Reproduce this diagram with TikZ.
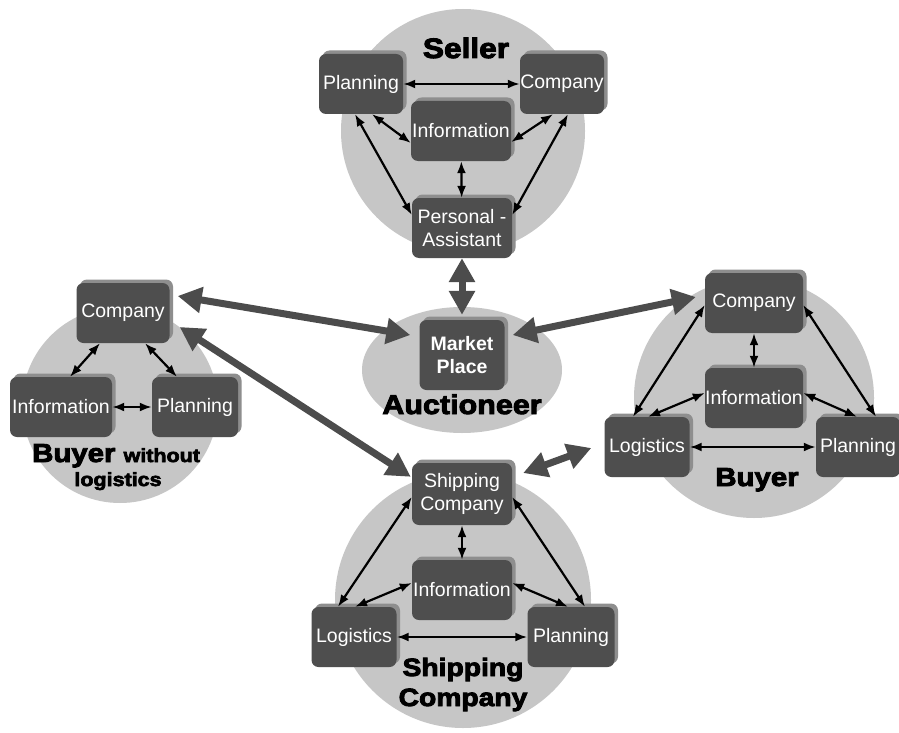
\documentclass[tikz,border=0pt]{standalone}
\usepackage{fontspec}
\setmainfont{Liberation Sans}
\newfontfamily\heavy[FakeBold=3.5,FakeStretch=1.13]{Liberation Sans Bold}
\usetikzlibrary{arrows.meta,calc,shadows}
\definecolor{disc}{HTML}{C6C6C6}
\definecolor{boxfill}{HTML}{4E4E4E}
\definecolor{bevel}{HTML}{8E8E8E}
\definecolor{pipecol}{HTML}{4C4C4C}
\begin{document}
\begin{tikzpicture}[x=1pt,y=-1pt,
  unitbox/.style={fill=boxfill,text=white,rounded corners=7pt,inner sep=0pt,align=center,
    minimum width=84pt,minimum height=60pt,font=\fontsize{19.5}{23}\selectfont,
    general shadow={fill=bevel,shadow xshift=3.5pt,shadow yshift=3.5pt}},
  wide/.style={minimum width=100pt},
  heading/.style={anchor=base,inner sep=0pt,font=\heavy\fontsize{#1}{#1}\selectfont},
  duo/.style={line width=2.2pt,{Latex[length=12pt,width=9pt]}-{Latex[length=12pt,width=9pt]}},
  bigarrow/.style={draw=pipecol,line width=7pt,{Triangle[length=24pt,width=25pt]}-{Triangle[length=24pt,width=25pt]}}]

\fill[white] (0,0) rectangle (899,733);
\useasboundingbox (0,0) rectangle (899,733);

% discs behind each party
\fill[disc] (463,131) circle[radius=122pt];
\fill[disc] (462,370) ellipse[x radius=100pt,y radius=63pt];
\fill[disc] (120,405) circle[radius=98pt];
\fill[disc] (754,398) circle[radius=120pt];
\fill[disc] (463,600) circle[radius=128pt];

% Seller
\node[unitbox] (sPl) at (361,84) {Planning};
\node[unitbox] (sCo) at (562,84) {Company};
\node[unitbox,wide] (sIn) at (461,131) {Information};
\node[unitbox,wide] (sPA) at (462,228) {Personal -\\Assistant};

% Auctioneer
\node[unitbox,minimum width=85pt,minimum height=70pt,font=\bfseries\fontsize{19.5}{23}\selectfont] (mp) at (462,355) {Market\\Place};

% Buyer without logistics
\node[unitbox,minimum width=93pt] (bCo) at (123,313) {Company};
\node[unitbox,minimum width=102pt] (bIn) at (61,407) {Information};
\node[unitbox,minimum width=86pt] (bPl) at (195,407) {Planning};

% Buyer
\node[unitbox,minimum width=98pt] (yCo) at (754,303) {Company};
\node[unitbox,minimum width=98pt] (yIn) at (754,398) {Information};
\node[unitbox,minimum width=85pt] (yLo) at (647,447) {Logistics};
\node[unitbox,minimum width=84pt] (yPl) at (858,447) {Planning};

% Shipping company
\node[unitbox,wide,minimum height=62pt] (hSC) at (462,494) {Shipping\\Company};
\node[unitbox,wide] (hIn) at (462,590) {Information};
\node[unitbox,minimum width=85pt] (hLo) at (354,637) {Logistics};
\node[unitbox,minimum width=87pt] (hPl) at (571,637) {Planning};

% party names
\node[heading=28] (lSel) at (466,58) {Seller};
\node[heading=27] (lAuc) at (462,414) {Auctioneer};
\node[heading=26,anchor=base west] (lBuy1) at (32,462) {Buyer {\fontsize{19}{19}\selectfont without}};
\node[heading=19] (lBuy2) at (118,486) {logistics};
\node[heading=26] (lBuy) at (757,486) {Buyer};
\node[heading=25] (lShip1) at (463,676) {Shipping};
\node[heading=25] (lShip2) at (463,706) {Company};

% links inside the seller
\draw[duo] (sPl) -- (sCo);
\draw[duo] ($(sPl.south)+(11,0)$) -- ($(sIn.west)+(0,12)$);
\draw[duo] ($(sCo.south)+(-9,0)$) -- ($(sIn.east)+(0,11)$);
\draw[duo] ($(sPl.south)+(-6,0)$) -- ($(sPA.west)+(0,-13)$);
\draw[duo] ($(sCo.south)+(6,0)$) -- ($(sPA.east)+(0,-13)$);
\draw[duo] (sIn) -- (sPA);

% links inside the buyer without logistics
\draw[duo] ($(bCo.south)+(-23,0)$) -- ($(bIn.north)+(9,0)$);
\draw[duo] ($(bCo.south)+(22,0)$) -- ($(bPl.north)+(-18,0)$);
\draw[duo] (bIn) -- (bPl);

% links inside the buyer
\draw[duo] (yCo) -- (yIn);
\draw[duo] ($(yCo.west)+(0,2)$) -- ($(yLo.north)+(-14,0)$);
\draw[duo] ($(yCo.east)+(0,2)$) -- ($(yPl.north)+(18,0)$);
\draw[duo] ($(yIn.west)+(0,-5)$) -- ($(yLo.north)+(1,0)$);
\draw[duo] ($(yIn.east)+(0,-5)$) -- ($(yPl.north)+(-1,0)$);
\draw[duo] (yLo) -- (yPl);

% links inside the shipping company
\draw[duo] (hSC) -- (hIn);
\draw[duo] ($(hSC.west)+(0,3)$) -- ($(hLo.north)+(-16,0)$);
\draw[duo] ($(hSC.east)+(0,3)$) -- ($(hPl.north)+(14,0)$);
\draw[duo] ($(hIn.west)+(0,-7)$) -- ($(hLo.north)+(1,0)$);
\draw[duo] ($(hIn.east)+(0,-7)$) -- ($(hPl.north)+(-3,0)$);
\draw[duo] (hLo) -- (hPl);

% links between the parties
\draw[bigarrow] (sPA.south) -- ($(mp.north)+(0,-5)$);
\draw[bigarrow] ($(bCo.east)+(8,-17)$) -- ($(mp.west)+(-9,-20)$);
\draw[bigarrow] ($(yCo.west)+(-9,-6)$) -- ($(mp.east)+(8,-20)$);
\draw[bigarrow] ($(bCo.east)+(10,14)$) -- ($(hSC.north west)+(-1,14)$);
\draw[bigarrow] ($(hSC.east)+(11,-21)$) -- ($(yLo.west)+(-13,1)$);
\end{tikzpicture}
\end{document}
